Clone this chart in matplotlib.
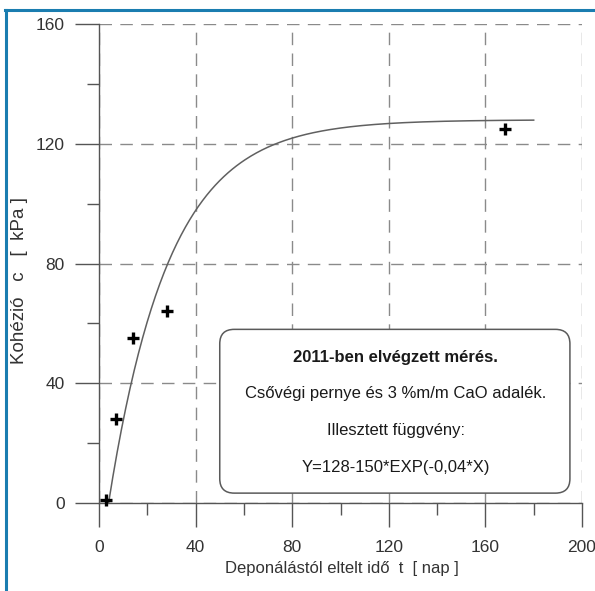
import numpy as np
import matplotlib
matplotlib.use("Agg")
import matplotlib.pyplot as plt
from matplotlib.patches import FancyBboxPatch
from matplotlib.lines import Line2D
from matplotlib.ticker import MultipleLocator

plt.rcParams['font.family'] = ['Liberation Sans', 'DejaVu Sans']

# measured points (day, cohesion kPa)
t_days = [3, 7, 14, 28, 168]
cohesion = [1, 28, 55, 64, 125]

# fitted function from the box text: Y = a - b*exp(-k*X)
fit_a = 128
fit_b = 150
fit_k = 0.04
fit_end = 180

box_lines = ["2011-ben elvégzett mérés.",
             "Csővégi pernye és 3 %m/m CaO adalék.",
             "Illesztett függvény:",
             "Y=128-150*EXP(-0,04*X)"]

W, H = 595, 591
fig = plt.figure(figsize=(W/100, H/100), dpi=100)
ax = fig.add_axes([99/W, (H-503)/H, (582-99)/W, (503-24)/H])
ax.set_xlim(0, 200)
ax.set_ylim(0, 160)

axc = '#555555'
for s in ['top', 'right']:
    ax.spines[s].set_visible(False)
for s in ['left', 'bottom']:
    ax.spines[s].set_color(axc)
    ax.spines[s].set_linewidth(1.0)

ax.xaxis.set_major_locator(MultipleLocator(40))
ax.xaxis.set_minor_locator(MultipleLocator(20))
ax.yaxis.set_major_locator(MultipleLocator(40))
ax.yaxis.set_minor_locator(MultipleLocator(20))
ax.tick_params(which='major', direction='out', length=17.5, width=1.0, color=axc,
               labelsize=12.5, labelcolor='#333333')
ax.tick_params(axis='x', which='major', pad=9)
ax.tick_params(axis='y', which='major', pad=7)
ax.tick_params(which='minor', direction='out', length=8.5, width=1.0, color=axc)

ax.grid(True, which='major', color='#8a8a8a', linewidth=1.0, linestyle=(0, (9, 6)))
ax.set_axisbelow(True)

# fitted curve
x0 = np.log(fit_b / fit_a) / fit_k
xs = np.linspace(x0, fit_end, 300)
ys = fit_a - fit_b * np.exp(-fit_k * xs)
ax.plot(xs, ys, color='#606060', linewidth=1.1, zorder=3, clip_on=False)

ax.plot(t_days, cohesion, linestyle='none', marker='+', markersize=9,
        markeredgewidth=2.4, color='black', zorder=4, clip_on=False)

# text box
box = FancyBboxPatch((50, 3.3), 145, 54.7,
                     boxstyle="round,pad=0,rounding_size=6",
                     mutation_aspect=0.805,
                     facecolor='white', edgecolor='#5a5a5a', linewidth=1.1, zorder=2.5)
ax.add_patch(box)
ys_txt = [48.7, 36.7, 24.3, 11.7]
for i, (line, yy) in enumerate(zip(box_lines, ys_txt)):
    ax.text(122.8, yy, line, ha='center', va='center', fontsize=12,
            fontweight='bold' if i == 0 else 'normal', color='#1a1a1a', zorder=5)

fig.text(342/W, (H-568)/H, "Deponálástól eltelt idő  t  [ nap ]", ha='center',
         va='center', fontsize=12, color='#333333')
fig.text(20/W, (H-280)/H, "Kohézió   c   [  kPa ]", ha='center', va='center',
         rotation=90, fontsize=13.5, color='#333333')

# blue frame (top and left)
blue = '#1a7db0'
fig.add_artist(Line2D([5.5/W, 5.5/W], [0, (H-10)/H], color=blue, linewidth=2.2,
                      transform=fig.transFigure))
fig.add_artist(Line2D([4.7/W, 1], [(H-10)/H, (H-10)/H], color=blue, linewidth=2.2,
                      transform=fig.transFigure))

fig.savefig("out.png", dpi=100)
